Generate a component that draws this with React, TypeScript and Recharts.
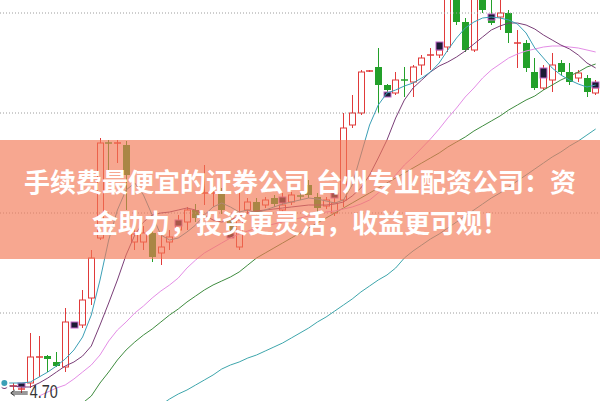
import React from "react";
import { ComposedChart, Bar, Line, XAxis, YAxis, ReferenceLine, ReferenceDot } from "recharts";

// daily candles (69 sessions)
const opens = [
  4.78, 4.77, 4.74, 4.8, 5.05, 5.07, 5.01, 4.96, 5.38, 5.38,
  5.65, 6.25, 7.2, 7.19, 7.18, 6.21, 6.21, 6.3, 6.1, 6.21,
  6.33, 6.41, 6.53, 6.69, 6.69, 6.71, 6.43, 6.16, 6.53, 6.61,
  6.58, 6.65, 6.53, 6.61, 6.67, 6.78, 6.66, 6.57, 6.5, 6.63,
  7.38, 7.5, 7.92, 7.96, 7.78, 7.7, 7.83, 7.81, 7.98, 8.07,
  8.08, 8.16, 8.68, 8.41, 8.13, 8.66, 8.48, 8.46, 8.5, 8.19,
  8.2, 7.91, 7.75, 7.83, 8.0, 7.91, 7.85, 7.85, 7.7,
];
const closes = [
  4.78, 4.77, 4.74, 5.06, 5.06, 5.04, 4.97, 5.41, 5.38, 5.63,
  6.05, 7.2, 7.19, 7.2, 6.88, 6.29, 6.3, 6.06, 6.16, 6.26,
  6.4, 6.53, 6.45, 6.7, 6.7, 6.53, 6.33, 6.43, 6.61, 6.51,
  6.63, 6.59, 6.58, 6.68, 6.66, 6.68, 6.55, 6.63, 6.6, 7.35,
  7.5, 7.91, 7.92, 7.78, 7.73, 7.83, 7.82, 7.96, 8.05, 8.08,
  8.13, 8.71, 8.41, 8.13, 8.68, 8.53, 8.4, 8.5, 8.3, 8.2,
  7.95, 7.75, 7.86, 7.98, 7.91, 7.81, 7.9, 7.71, 7.75,
];
const highs = [
  4.82, 4.8, 4.77, 5.3, 5.27, 5.08, 5.11, 5.55, 5.41, 5.73,
  6.13, 7.25, 7.23, 7.23, 7.22, 6.35, 6.37, 6.35, 6.28, 6.33,
  6.48, 6.56, 6.59, 6.98, 6.75, 6.75, 6.47, 6.73, 6.65, 6.65,
  6.66, 6.68, 6.7, 6.71, 6.7, 6.83, 6.7, 6.66, 6.68, 7.5,
  7.68, 7.93, 7.93, 8.15, 7.79, 7.91, 7.96, 7.98, 8.08, 8.15,
  8.21, 8.75, 8.78, 8.45, 8.73, 8.71, 8.63, 8.63, 8.53, 8.33,
  8.23, 8.05, 7.98, 8.1, 8.03, 8.0, 7.93, 7.88, 7.83,
];
const lows = [
  4.73, 4.73, 4.7, 4.75, 4.86, 4.91, 4.96, 4.91, 5.35, 5.35,
  5.58, 6.23, 6.93, 7.0, 6.53, 6.13, 6.13, 6.01, 5.98, 6.13,
  6.28, 6.33, 6.41, 6.58, 6.56, 6.49, 6.29, 6.13, 6.49, 6.48,
  6.55, 6.56, 6.51, 6.58, 6.63, 6.65, 6.51, 6.54, 6.47, 6.56,
  7.35, 7.48, 7.91, 7.5, 7.66, 7.68, 7.66, 7.66, 7.88, 7.93,
  8.05, 8.11, 8.38, 8.11, 8.11, 8.5, 8.38, 8.33, 8.2, 7.95,
  7.91, 7.73, 7.73, 7.71, 7.88, 7.78, 7.81, 7.66, 7.68,
];

// small highlighted boxes: [session, low, high]
const markers: [number, number, number][] = [
  [2, 4.76, 4.8], [8, 5.35, 5.41], [20, 6.37, 6.43], [26, 6.25, 6.3],
  [32, 6.6, 6.66], [38, 6.65, 6.7], [44, 7.66, 7.71], [50, 8.13, 8.21],
  [56, 8.43, 8.49], [62, 7.85, 7.95], [68, 7.75, 7.81],
];

const ma5 = [
  4.8, 4.8, 4.8, 4.81, 4.86, 4.91, 4.97, 5.04, 5.13, 5.26,
  5.48, 5.83, 6.23, 6.53, 6.73, 6.8, 6.68, 6.48, 6.28, 6.23,
  6.25, 6.31, 6.38, 6.48, 6.56, 6.6, 6.56, 6.51, 6.53, 6.5,
  6.53, 6.56, 6.59, 6.61, 6.63, 6.65, 6.64, 6.62, 6.6, 6.63,
  6.78, 7.08, 7.38, 7.58, 7.7, 7.73, 7.77, 7.8, 7.85, 7.91,
  8.0, 8.13, 8.25, 8.35, 8.41, 8.45, 8.46, 8.45, 8.43, 8.39,
  8.3, 8.15, 8.05, 7.95, 7.88, 7.83, 7.79, 7.76, 7.78,
];
const ma10 = [
  4.77, 4.77, 4.76, 4.76, 4.8, 4.85, 4.91, 4.97, 5.01, 5.07,
  5.17, 5.38, 5.6, 5.83, 6.08, 6.28, 6.41, 6.48, 6.5, 6.51,
  6.53, 6.55, 6.53, 6.48, 6.43, 6.41, 6.43, 6.47, 6.5, 6.52,
  6.53, 6.54, 6.55, 6.56, 6.57, 6.58, 6.58, 6.58, 6.59, 6.61,
  6.67, 6.75, 6.88, 7.05, 7.23, 7.45, 7.63, 7.75, 7.83, 7.91,
  7.97, 8.01, 8.06, 8.12, 8.19, 8.26, 8.33, 8.37, 8.4, 8.4,
  8.38, 8.34, 8.28, 8.23, 8.18, 8.14, 8.08, 8.0, 7.95,
];
const ma20 = [
  null, null, null, null, 4.67, 4.71, 4.75, 4.78, 4.84, 4.91,
  4.98, 5.08, 5.22, 5.33, 5.41, 5.5, 5.57, 5.65, 5.72, 5.78,
  5.85, 5.95, 6.03, 6.1, 6.15, 6.2, 6.25, 6.29, 6.32, 6.35,
  6.37, 6.39, 6.41, 6.43, 6.45, 6.47, 6.49, 6.51, 6.52, 6.54,
  6.56, 6.59, 6.63, 6.7, 6.78, 6.88, 6.98, 7.06, 7.15, 7.24,
  7.34, 7.45, 7.55, 7.66, 7.75, 7.85, 7.93, 7.99, 8.05, 8.09,
  8.12, 8.14, 8.16, 8.17, 8.17, 8.16, 8.15, 8.13, 8.11,
];
const ma60 = [
  null, null, null, null, null, null, null, null, null, 4.6,
  4.67, 4.8, 4.91, 5.03, 5.13, 5.21, 5.28, 5.34, 5.41, 5.48,
  5.54, 5.61, 5.67, 5.73, 5.78, 5.82, 5.86, 5.91, 5.98, 6.05,
  6.1, 6.15, 6.2, 6.25, 6.3, 6.35, 6.4, 6.45, 6.5, 6.55,
  6.6, 6.65, 6.7, 6.75, 6.8, 6.85, 6.9, 6.95, 7.0, 7.05,
  7.1, 7.16, 7.21, 7.26, 7.32, 7.37, 7.42, 7.47, 7.53, 7.58,
  7.63, 7.67, 7.73, 7.78, 7.83, 7.87, 7.91, 7.96, 7.99,
];
const ma120 = [
  null, null, null, null, null, null, null, null, null, null,
  null, null, null, null, null, null, null, null, 4.58, 4.64,
  4.69, 4.73, 4.78, 4.83, 4.88, 4.94, 4.98, 5.01, 5.05, 5.08,
  5.12, 5.16, 5.2, 5.25, 5.3, 5.35, 5.41, 5.46, 5.52, 5.58,
  5.64, 5.71, 5.77, 5.83, 5.88, 5.95, 6.05, 6.12, 6.18, 6.24,
  6.29, 6.35, 6.41, 6.47, 6.53, 6.59, 6.65, 6.7, 6.76, 6.82,
  6.88, 6.94, 7.0, 7.06, 7.11, 7.17, 7.22, 7.28, 7.34,
];

const gridLevels = [5.5, 6.5, 7.5, 8.5];
const lowIdx = 2;
const lowLabel = "4.70";

const RED = "#e03a3a";
const GREEN = "#23a02a";

const data = opens.map((o, i) => {
  const m = markers.find((mk) => mk[0] === i);
  return {
    i,
    open: o,
    close: closes[i],
    high: highs[i],
    low: lows[i],
    range: [lows[i], highs[i]],
    mark: m ? [m[1], m[2]] : null,
    ma5: ma5[i],
    ma10: ma10[i],
    ma20: ma20[i],
    ma60: ma60[i],
    ma120: ma120[i],
  };
});

function Candle(props: any) {
  const { x, y, width, height, payload } = props;
  if (payload == null) return null;
  const top = Math.min(y, y + height);
  const bot = Math.max(y, y + height);
  const hi = payload.high;
  const lo = payload.low;
  const py = (v: number) => top + ((hi - v) / (hi - lo)) * (bot - top);
  const cx = Math.round(x + width / 2) + 0.5;
  const up = payload.close >= payload.open;
  const color = up ? RED : GREEN;
  const bt = py(Math.max(payload.open, payload.close));
  const bb = py(Math.min(payload.open, payload.close));
  const bw = 6;
  const flat = bb - bt < 1.5;
  return (
    <g>
      {up && !flat ? (
        <>
          <line x1={cx} x2={cx} y1={top} y2={bt} stroke={color} />
          <line x1={cx} x2={cx} y1={bb} y2={bot} stroke={color} />
          <rect x={cx - bw / 2} y={bt} width={bw} height={bb - bt} fill="#fff" stroke={color} />
        </>
      ) : (
        <>
          <line x1={cx} x2={cx} y1={top} y2={bot} stroke={color} />
          {flat ? (
            <line x1={cx - bw / 2 - 0.5} x2={cx + bw / 2 + 0.5} y1={bt} y2={bt} stroke={color} strokeWidth={1.5} />
          ) : (
            <rect x={cx - bw / 2 - 0.5} y={bt} width={bw + 1} height={bb - bt} fill={color} />
          )}
        </>
      )}
      {payload.mark && (
        <rect
          x={cx - 3.5}
          y={py(payload.mark[1])}
          width={7}
          height={Math.max(3, py(payload.mark[0]) - py(payload.mark[1]))}
          fill="#1c1c36"
          stroke="#c467c8"
          strokeWidth={1}
        />
      )}
    </g>
  );
}

function LowMark(props: any) {
  const { cx, cy } = props;
  return (
    <g>
      <line x1={cx - 10} x2={cx + 6} y1={cy - 1} y2={cy - 1} stroke="#333" />
      <line x1={cx - 10} x2={cx + 6} y1={cy + 1} y2={cy + 1} stroke="#333" />
      <path d={`M${cx - 11},${cy} l4,-3 M${cx - 11},${cy} l4,3`} stroke="#333" fill="none" />
      <text
        x={cx + 8}
        y={cy + 5}
        fontSize={18}
        fill="#333"
        textLength={28}
        lengthAdjust="spacingAndGlyphs"
        fontFamily="Liberation Sans, Arial, sans-serif"
      >
        {lowLabel}
      </text>
    </g>
  );
}

export default function App() {
  return (
    <div style={{ position: "absolute", left: 0, top: 0, width: 600, height: 401, background: "#fff", overflow: "hidden" }}>
      <ComposedChart width={600} height={401} data={data} margin={{ top: 0, right: 0, bottom: 0, left: 0 }}>
        <XAxis dataKey="i" type="category" hide padding={{ left: 0, right: 0 }} />
        <YAxis hide domain={[4.62, 8.63]} allowDataOverflow type="number" />
        {gridLevels.map((v) => (
          <ReferenceLine key={v} y={v} stroke="#9c9c9c" strokeDasharray="1 2" />
        ))}
        <Bar dataKey="range" barSize={6} shape={<Candle />} isAnimationActive={false} />
        <Line dataKey="ma120" stroke="#3ea6ac" dot={false} strokeWidth={1} isAnimationActive={false} />
        <Line dataKey="ma60" stroke="#3f8c3f" dot={false} strokeWidth={1} isAnimationActive={false} />
        <Line dataKey="ma20" stroke="#e48de6" dot={false} strokeWidth={1} isAnimationActive={false} />
        <Line dataKey="ma10" stroke="#7a3e78" dot={false} strokeWidth={1} isAnimationActive={false} />
        <Line dataKey="ma5" stroke="#3b9fb6" dot={false} strokeWidth={1} isAnimationActive={false} />
        <ReferenceDot x={lowIdx} y={lows[lowIdx]} r={0} shape={<LowMark />} />
      </ComposedChart>
      <div
        style={{
          position: "absolute",
          left: 0,
          top: 140,
          width: 600,
          height: 119,
          background: "rgba(243,120,85,0.65)",
          color: "#fff",
          fontFamily: "'Noto Sans CJK SC', sans-serif",
          fontWeight: 700,
          fontSize: 26,
          textAlign: "center",
        }}
      >
        <div style={{ position: "absolute", left: 0, right: 0, top: 28, lineHeight: "26px", whiteSpace: "nowrap" }}>
          手续费最便宜的证券公司 台州专业配资公司：资
        </div>
        <div style={{ position: "absolute", left: 0, right: 0, top: 69, lineHeight: "26px", whiteSpace: "nowrap" }}>
          金助力，投资更灵活，收益更可观！
        </div>
      </div>
    </div>
  );
}
